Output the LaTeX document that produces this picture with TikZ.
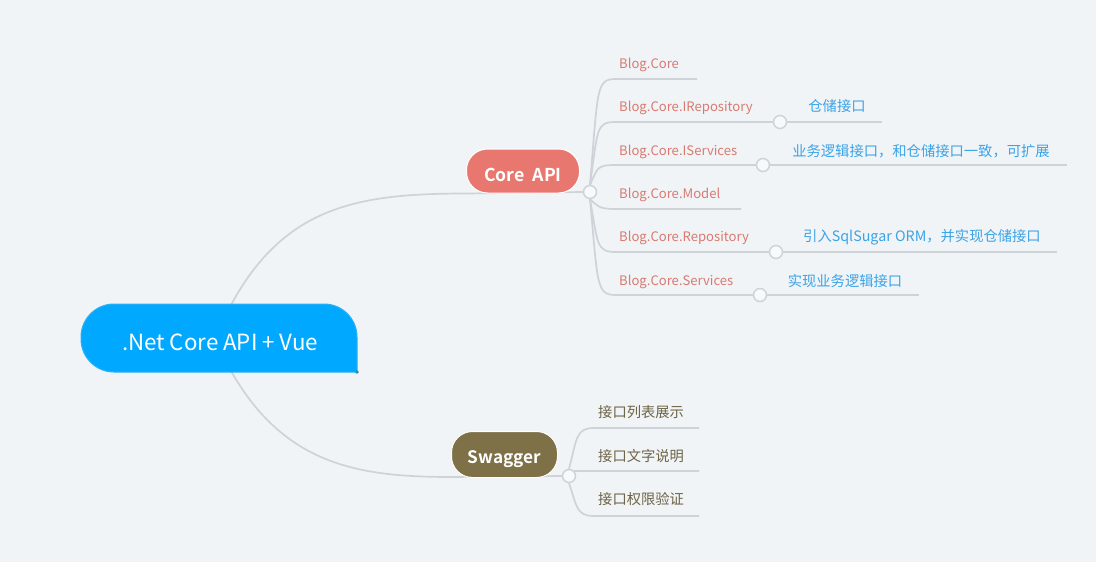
\documentclass[tikz,border=0pt]{standalone}
\usepackage{fontspec}
\setmainfont{Noto Sans CJK SC}
\newfontfamily\cjk{Noto Sans CJK SC}
\newfontfamily\cjkb{Noto Sans CJK SC Bold}
\definecolor{bgc}{HTML}{F0F4F7}
\definecolor{linec}{HTML}{CDD3D9}
\definecolor{knobfill}{HTML}{F7F9FA}
\definecolor{rootc}{HTML}{00A9FF}
\definecolor{rootedge}{HTML}{29B2F5}
\definecolor{corec}{HTML}{E8786F}
\definecolor{swagc}{HTML}{7E7047}
\definecolor{blogc}{HTML}{D97A70}
\definecolor{subc}{HTML}{3BA3E6}
\definecolor{swtext}{HTML}{6E6446}
\tikzset{
  conn/.style={draw=linec, line width=1.7pt},
  knob/.style={circle, draw=linec, fill=knobfill, line width=1.5pt, minimum size=13pt, inner sep=0pt},
  bloglabel/.style={anchor=west, inner sep=0pt, text=blogc, font=\cjk\fontsize{13.1}{15}\selectfont},
  sublabel/.style={inner sep=0pt, text=subc, font=\cjk\fontsize{14.3}{16}\selectfont},
  swlabel/.style={anchor=west, inner sep=0pt, text=swtext, font=\cjk\fontsize{14.3}{16}\selectfont},
  pill/.style={rounded corners=21pt, draw=white, line width=1pt, text=white, inner sep=0pt},
}
\begin{document}
\begin{tikzpicture}[x=1pt,y=-1pt]
\useasboundingbox[fill=bgc] (0,0) rectangle (1096,562);

% ---------- anchors ----------
\coordinate (rootTop) at (231,305);
\coordinate (rootBot) at (231,371);

% ---------- main connectors ----------
\node[knob] (kcore) at (590,192) {};
\node[knob] (kswag) at (569,476) {};
\draw[conn] (rootTop) .. controls (285,205) and (360,193.5) .. (467,193.5) -- (kcore.west);
\draw[conn] (rootBot) .. controls (285,466) and (360,477) .. (452,477) -- (kswag.west);

% ---------- root ----------
\path[fill=rootc, draw=rootedge, line width=1pt] (357,372) [rounded corners=33pt] -- (81,372) -- (81,304) -- (357,304) [sharp corners] -- cycle;
\fill[rootedge!80!black] (357,372) circle (1.8pt);
\node[text=white, font=\cjk\fontsize{22.3}{25}\selectfont, inner sep=0pt] (root) at (220,342) {.Net Core API + Vue};

% ---------- Core API ----------
\node[pill, fill=corec, minimum width=113pt, minimum height=44pt] (core) at (523,171) {};
\node[text=white, inner sep=0pt, font=\cjkb\fontsize{17.7}{20}\selectfont] (coret) at (523,174.5) {Core\hspace{0.45em}API};

% ---------- Core API children ----------
\coordinate (e1) at (697,79);
\node[knob] (k2) at (780,122) {};
\node[knob] (k3) at (763,165) {};
\coordinate (e4) at (741,209);
\node[knob] (k5) at (776,252) {};
\node[knob] (k6) at (760,295) {};

\draw[conn] (kcore.north) .. controls (598,88) and (596,79) .. (616,79) -- (e1);
\draw[conn] (kcore.north) .. controls (598,128) and (596,122) .. (616,122) -- (k2.west);
\draw[conn] (kcore.north) .. controls (598,168) and (596,165) .. (616,165) -- (k3.west);
\draw[conn] (kcore.south) .. controls (598,206) and (598,209) .. (616,209) -- (e4);
\draw[conn] (kcore.south) .. controls (598,244) and (596,252) .. (616,252) -- (k5.west);
\draw[conn] (kcore.south) .. controls (598,285) and (596,295) .. (616,295) -- (k6.west);

\node[bloglabel] (b1) at (619,65) {Blog.Core};
\node[bloglabel] (b2) at (619,108) {Blog.Core.IRepository};
\node[bloglabel] (b3) at (619,152) {Blog.Core.IServices};
\node[bloglabel] (b4) at (619,195) {Blog.Core.Model};
\node[bloglabel] (b5) at (619,238) {Blog.Core.Repository};
\node[bloglabel] (b6) at (619,282) {Blog.Core.Services};

% ---------- sub-branches ----------
\coordinate (s2) at (882,122);
\coordinate (s3) at (1067,165);
\coordinate (s5) at (1057,252);
\coordinate (s6) at (919,295);
\draw[conn] (k2.east) -- (s2);
\draw[conn] (k3.east) -- (s3);
\draw[conn] (k5.east) -- (s5);
\draw[conn] (k6.east) -- (s6);
\node[sublabel] (t2) at (837,106.5) {仓储接口};
\node[sublabel] (t3) at (921,151.5) {业务逻辑接口，和仓储接口一致，可扩展};
\node[sublabel] (t5) at (922,237.5) {引入SqlSugar ORM，并实现仓储接口};
\node[sublabel] (t6) at (845,281.5) {实现业务逻辑接口};

% ---------- Swagger ----------
\node[pill, fill=swagc, minimum width=106pt, minimum height=46pt] (swag) at (504.5,454.5) {};
\node[text=white, inner sep=0pt, font=\cjkb\fontsize{17.2}{20}\selectfont] (swagt) at (504.5,459) {Swagger};

\coordinate (w1) at (699,428);
\coordinate (w2) at (699,471);
\coordinate (w3) at (699,516);
\draw[conn] (kswag.north) .. controls (577,438) and (576,428) .. (594,428) -- (w1);
\draw[conn] (kswag.north east) .. controls (576,471) and (580,471) .. (594,471) -- (w2);
\draw[conn] (kswag.south) .. controls (577,506) and (576,516) .. (594,516) -- (w3);

\node[swlabel] (c1) at (598,412.5) {接口列表展示};
\node[swlabel] (c2) at (598,456.5) {接口文字说明};
\node[swlabel] (c3) at (598,499.5) {接口权限验证};
\end{tikzpicture}
\end{document}
